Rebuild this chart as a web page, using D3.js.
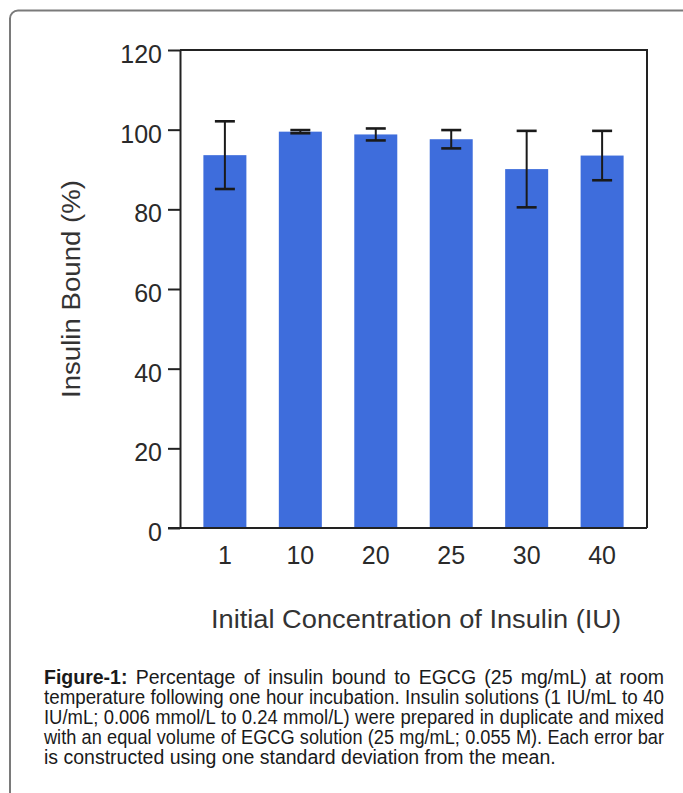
<!DOCTYPE html>
<html>
<head>
<meta charset="utf-8">
<script src="https://cdn.jsdelivr.net/npm/d3@7"></script>
<style>
  html, body { margin: 0; padding: 0; background: #fff; }
  svg { display: block; }
</style>
</head>
<body>
<script>
// ---- data ----
const categories = ["1", "10", "20", "25", "30", "40"];
const meanBound = [93.6, 99.5, 98.8, 97.6, 90.1, 93.5];
const sdBound = [8.5, 0.4, 1.5, 2.3, 9.6, 6.2];
const yTicks = [0, 20, 40, 60, 80, 100, 120];
const yLabel = "Insulin Bound (%)";
const xLabel = "Initial Concentration of Insulin (IU)";
const captionLabel = "Figure-1:";
const captionLines = [
  "Percentage of insulin bound to EGCG (25 mg/mL) at room",
  "temperature following one hour incubation. Insulin solutions (1 IU/mL to 40",
  "IU/mL; 0.006 mmol/L to 0.24 mmol/L) were prepared in duplicate and mixed",
  "with an equal volume of EGCG solution (25 mg/mL; 0.055 M). Each error bar",
  "is constructed using one standard deviation from the mean."
];

// ---- layout ----
const W = 683, H = 793;
const FONT = "'Liberation Sans', Arial, Helvetica, sans-serif";
const plot = { left: 180, right: 647, top: 50, bottom: 528 };

const svg = d3.select("body").append("svg").attr("width", W).attr("height", H);

// outer frame (rounded, cropped on right/bottom)
svg.append("rect")
  .attr("x", 10).attr("y", 10.5)
  .attr("width", W + 20).attr("height", H + 20)
  .attr("rx", 8).attr("ry", 8)
  .attr("fill", "none").attr("stroke", "#7a7a7a").attr("stroke-width", 2);

const x = d3.scaleBand().domain(categories)
  .range([plot.left, plot.right]).paddingInner(0.43).paddingOuter(0.31);
const y = d3.scaleLinear().domain([0, 120]).range([plot.bottom, plot.top]);

// bars
svg.append("g").selectAll("rect").data(categories).join("rect")
  .attr("x", d => x(d))
  .attr("width", x.bandwidth())
  .attr("y", (d, i) => y(meanBound[i]))
  .attr("height", (d, i) => y(0) - y(meanBound[i]))
  .attr("fill", "#3e6ddc");

// error bars
const capW = 20;
const eg = svg.append("g").attr("stroke", "#1a1a1a").attr("stroke-width", 2);
categories.forEach((c, i) => {
  const cx = x(c) + x.bandwidth() / 2;
  const hi = y(meanBound[i] + sdBound[i]);
  const lo = y(meanBound[i] - sdBound[i]);
  eg.append("line").attr("x1", cx).attr("x2", cx).attr("y1", hi).attr("y2", lo);
  eg.append("line").attr("x1", cx - capW / 2).attr("x2", cx + capW / 2).attr("y1", hi).attr("y2", hi).attr("stroke-width", 2.6);
  eg.append("line").attr("x1", cx - capW / 2).attr("x2", cx + capW / 2).attr("y1", lo).attr("y2", lo).attr("stroke-width", 2.6);
});

// box top & right
svg.append("path")
  .attr("d", `M${plot.left},${plot.top}H${plot.right}V${plot.bottom}`)
  .attr("fill", "none").attr("stroke", "#222").attr("stroke-width", 2);

// y axis
const yAxis = svg.append("g").attr("transform", `translate(${plot.left},0)`)
  .call(d3.axisLeft(y).tickValues(yTicks).tickSize(12).tickPadding(6).tickSizeOuter(0));
yAxis.select(".domain").attr("stroke", "#222").attr("stroke-width", 2);
yAxis.selectAll(".tick line").attr("stroke", "#222").attr("stroke-width", 2);
yAxis.selectAll(".tick text").attr("font-family", FONT).attr("font-size", 25)
  .attr("fill", "#2a2a2a").attr("dy", "0.5em");

// x axis
const xAxis = svg.append("g").attr("transform", `translate(0,${plot.bottom})`)
  .call(d3.axisBottom(x).tickSize(0).tickPadding(18).tickSizeOuter(0));
xAxis.select(".domain").attr("stroke", "#222").attr("stroke-width", 2)
  .attr("d", `M${plot.left - 12},0H${plot.right}`);
xAxis.selectAll(".tick text").attr("font-family", FONT).attr("font-size", 25).attr("fill", "#2a2a2a");

// axis titles
svg.append("text")
  .attr("transform", `translate(80,${(plot.top + plot.bottom) / 2}) rotate(-90)`)
  .attr("text-anchor", "middle").attr("font-family", FONT).attr("font-size", 26)
  .attr("fill", "#333").attr("textLength", 218).attr("lengthAdjust", "spacingAndGlyphs")
  .text(yLabel);

svg.append("text")
  .attr("x", 416).attr("y", 628)
  .attr("text-anchor", "middle").attr("font-family", FONT).attr("font-size", 26)
  .attr("fill", "#333").attr("textLength", 410).attr("lengthAdjust", "spacingAndGlyphs")
  .text(xLabel);

// caption, justified (each line fitted to the column width)
const capX0 = 44, capX1 = 664, capY0 = 684, capDY = 20, capFS = 19.5;
const capOuter = svg.append("g").attr("transform", `translate(${capX0},0)`)
  .attr("font-family", FONT).attr("font-size", capFS).attr("fill", "#1a1a1a");
const spaceW = 0.278 * capFS;
const target = capX1 - capX0;
captionLines.forEach((line, i) => {
  const last = i === captionLines.length - 1;
  const g = capOuter.append("g");
  const words = line.split(" ").map(t => ({ t, bold: false }));
  if (i === 0) words.unshift({ t: captionLabel, bold: true });
  const nodes = words.map(w => g.append("text").attr("y", capY0 + i * capDY)
    .attr("font-weight", w.bold ? "bold" : "normal").text(w.t));
  const widths = nodes.map(n => n.node().getComputedTextLength());
  const natural = d3.sum(widths) + spaceW * (words.length - 1);
  const s = last ? 1 : Math.min(1, target / (natural * 1.004));
  g.attr("transform", `scale(${s},1)`);
  const inner = target / s;
  const gap = last ? spaceW : (inner - d3.sum(widths)) / (words.length - 1);
  let xx = 0;
  nodes.forEach((node, j) => { node.attr("x", xx); xx += widths[j] + gap; });
});
</script>
</body>
</html>
